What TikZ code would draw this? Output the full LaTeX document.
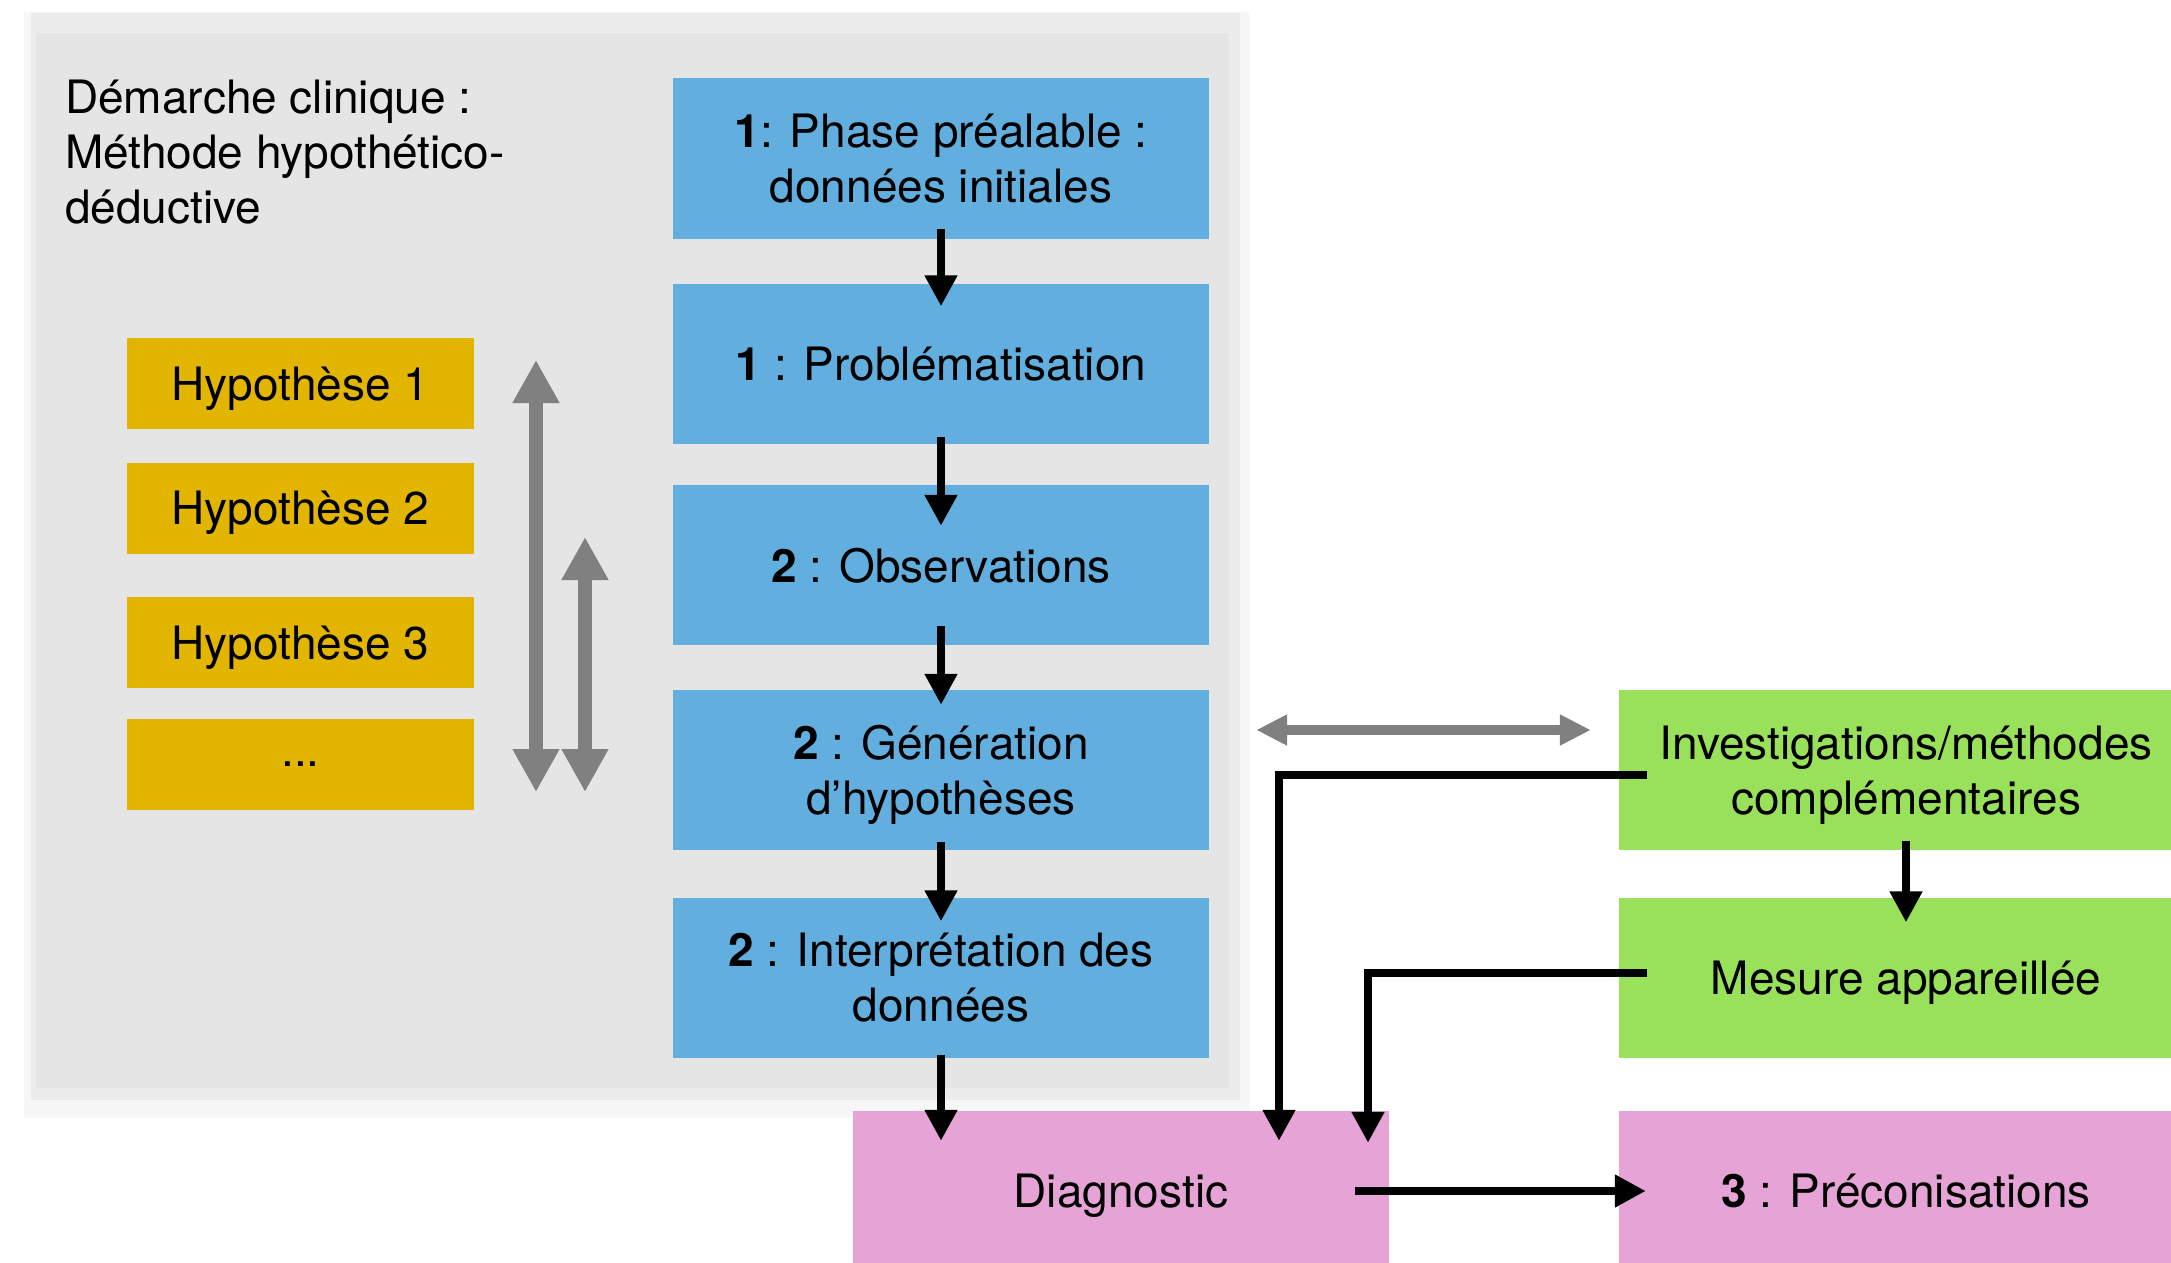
\documentclass[tikz,border=0pt]{standalone}
\usepackage{fontspec}
\setmainfont{TeX Gyre Heros}
\usetikzlibrary{arrows.meta,calc}

\definecolor{panelgray}{HTML}{E5E5E5}
\definecolor{panelband}{HTML}{ECECEC}
\definecolor{panelhalo}{HTML}{F7F7F7}
\definecolor{stepblue}{HTML}{62AFDF}
\definecolor{hypyellow}{HTML}{E2B600}
\definecolor{invgreen}{HTML}{99E15B}
\definecolor{diagpink}{HTML}{E5A3D6}
\definecolor{linkgray}{HTML}{808080}

\begin{document}
\begin{tikzpicture}[x=1pt,y=-1pt,
  every node/.style={font=\fontsize{46}{55}\selectfont, inner sep=0pt, align=center},
  boxtext/.style={text depth=-4pt},
  stepbox/.style={boxtext, fill=stepblue, minimum width=536pt, minimum height=160pt},
  hypbox/.style={boxtext, fill=hypyellow, minimum width=347pt, minimum height=91pt},
  greenbox/.style={boxtext, fill=invgreen, minimum width=574pt, minimum height=160pt},
  pinkbox/.style={boxtext, fill=diagpink, minimum height=160pt},
  flow/.style={draw=black, line width=8pt, -{Triangle[length=31pt,width=31pt]}},
  twoway/.style={draw=linkgray, line width=14pt,
    {Triangle[length=43pt,width=44pt]}-{Triangle[length=43pt,width=44pt]}},
  twowaythin/.style={draw=linkgray, line width=10pt,
    {Triangle[length=31pt,width=29pt]}-{Triangle[length=31pt,width=29pt]}},
]
\clip (0,0) rectangle (2171,1263);
\fill[white] (0,0) rectangle (2171,1263);

% background panel of the clinical method, with a soft edge
\fill[panelhalo] (24,12) rectangle (1250,1118);
\fill[panelband] (31,13) rectangle (1240,1100);
\fill[panelgray] (36,33) rectangle (1229,1088);

\node[anchor=north west, align=left] (title) at (65,80)
  {Démarche clinique :\\Méthode hypothético-\\déductive};

% main steps
\node[stepbox] (b1) at (941,158.5) {\textbf{1}: Phase préalable :\\données initiales};
\node[stepbox] (b2) at (941,363.5) {\textbf{1} : Problématisation};
\node[stepbox] (b3) at (941,565) {\textbf{2} : Observations};
\node[stepbox] (b4) at (941,770) {\textbf{2} : Génération\\d’hypothèses};
\node[stepbox] (b5) at (941,977.5) {\textbf{2} : Interprétation des\\données};

% hypotheses
\node[hypbox] (h1) at (300.5,383.5) {Hypothèse 1};
\node[hypbox] (h2) at (300.5,508) {Hypothèse 2};
\node[hypbox] (h3) at (300.5,642.5) {Hypothèse 3};
\node[hypbox] (h4) at (300.5,764.5) {...};

% complementary investigations
\node[greenbox] (g1) at (1906,770) {Investigations/méthodes\\complémentaires};
\node[greenbox] (g2) at (1906,977.5) {Mesure appareillée};

% outcome
\node[pinkbox, minimum width=536pt] (diag) at (1121,1191) {Diagnostic};
\node[pinkbox, minimum width=574pt] (p3) at (1906,1191) {\textbf{3} : Préconisations};

% flow between the steps
\draw[flow] ([yshift=10pt]b1.south) -- ([yshift=-23pt]b2.north);
\draw[flow] ([yshift=7pt]b2.south) -- ([yshift=-41pt]b3.north);
\draw[flow] ([yshift=19pt]b3.south) -- ([yshift=-15pt]b4.north);
\draw[flow] ([yshift=8pt]b4.south) -- ([yshift=-24pt]b5.north);
\draw[flow] ([yshift=3pt]b5.south) -- ($(b5.south |- diag.north)+(0,30)$);

\draw[flow] ([yshift=9pt]g1.south) -- ([yshift=-25pt]g2.north);
\draw[flow] ([xshift=28pt,yshift=-5pt]g1.west) -| ([xshift=158pt,yshift=-30pt]diag.north);
\draw[flow] ([xshift=28pt,yshift=4.5pt]g2.west) -| ([xshift=247pt,yshift=-32pt]diag.north);
\draw[flow] ([xshift=-34pt]diag.east) -- ([xshift=27pt]p3.west);

% back-and-forth between hypotheses
\coordinate (ltop) at (536,360);
\coordinate (lbot) at (536,792);
\coordinate (stop) at (585,537);
\coordinate (sbot) at (585,792);
\draw[twoway] (lbot) -- (ltop);
\draw[twoway] (sbot) -- (stop);

% exchange between hypotheses and investigations
\draw[twowaythin] ([xshift=47pt,yshift=40pt]b4.east) -- ([xshift=-28pt,yshift=40pt]g1.west);
\end{tikzpicture}
\end{document}
